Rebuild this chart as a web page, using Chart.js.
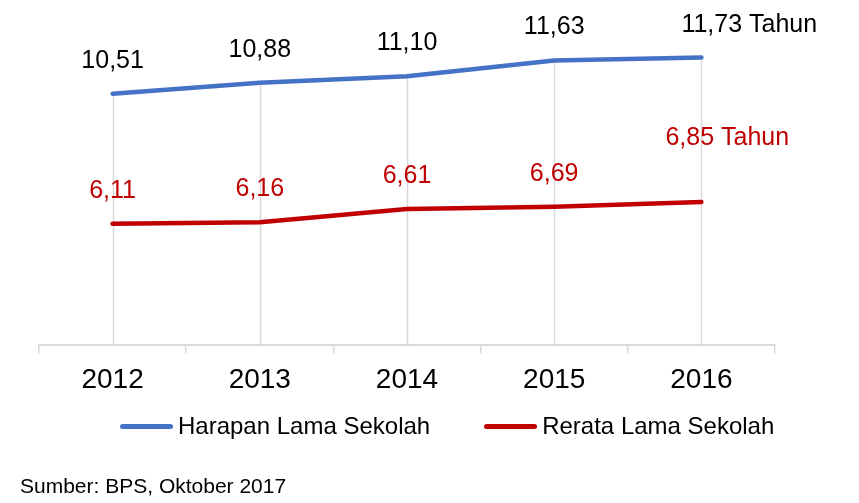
<!DOCTYPE html>
<html>
<head>
<meta charset="utf-8">
<script src="https://cdn.jsdelivr.net/npm/chart.js@4"></script>
<style>
    html, body { margin: 0; padding: 0; background: #ffffff; }
    #wrap { position: relative; width: 859px; height: 503px; font-family: 'Liberation Sans', Arial, sans-serif; }
    #chart { position: absolute; left: 0; top: 0; }
    #legend { position: absolute; left: 120px; top: 414px; display: flex; align-items: center; height: 24px; }
    #legend .item { display: flex; align-items: center; margin-right: 54px; }
    #legend .line { width: 53px; height: 5px; border-radius: 3px; margin-right: 5px; }
    #legend .text { font-size: 24px; line-height: 1; color: #000000; }
    #source { position: absolute; left: 20px; top: 475px; font-size: 21px; line-height: 1; color: #000000; }
</style>
</head>
<body>
<div id="wrap">
    <canvas id="chart" width="859" height="503"></canvas>
    <div id="legend"></div>
    <div id="source">Sumber: BPS, Oktober 2017</div>
</div>
<script>
const years = ['2012', '2013', '2014', '2015', '2016'];
const harapanLamaSekolah = [10.51, 10.88, 11.10, 11.63, 11.73];
const rerataLamaSekolah = [6.11, 6.16, 6.61, 6.69, 6.85];
const seriesNames = ['Harapan Lama Sekolah', 'Rerata Lama Sekolah'];

const BLUE = '#4472c4';
const RED = '#c00000';
const GRID = '#d9d9d9';
const FONT = "'Liberation Sans', Arial, sans-serif";

// Excel style drop lines from the highest point down to the axis
const dropLines = {
    id: 'dropLines',
    beforeDatasetsDraw(chart) {
        const ctx = chart.ctx;
        const bottom = chart.chartArea.bottom;
        const metas = chart.data.datasets.map((d, i) => chart.getDatasetMeta(i));
        ctx.save();
        ctx.strokeStyle = GRID;
        ctx.lineWidth = 1.5;
        for (let i = 0; i < years.length; i++) {
            let top = bottom;
            metas.forEach((m) => { top = Math.min(top, m.data[i].y); });
            const x = Math.round(metas[0].data[i].x) + 0.5;
            ctx.beginPath();
            ctx.moveTo(x, top);
            ctx.lineTo(x, bottom);
            ctx.stroke();
        }
        ctx.restore();
    },
};

// value labels above each point, unit on the last one
const valueLabels = {
    id: 'valueLabels',
    afterDatasetsDraw(chart, args, opts) {
        const ctx = chart.ctx;
        ctx.save();
        ctx.font = '25px ' + FONT;
        ctx.textBaseline = 'middle';
        chart.data.datasets.forEach((ds, di) => {
            const meta = chart.getDatasetMeta(di);
            ctx.fillStyle = opts.colors[di];
            meta.data.forEach((pt, i) => {
                let txt = ds.data[i].toFixed(2).replace('.', ',');
                if (i === ds.data.length - 1) {
                    const off = opts.last[di];
                    ctx.textAlign = 'left';
                    ctx.fillText(txt + ' Tahun', pt.x + off.dx, pt.y + off.dy);
                } else {
                    ctx.textAlign = 'center';
                    ctx.fillText(txt, pt.x, pt.y + opts.dy);
                }
            });
        });
        ctx.restore();
    },
};

const chart = new Chart(document.getElementById('chart'), {
    type: 'line',
    data: {
        labels: years,
        datasets: [
            {
                label: seriesNames[0],
                data: harapanLamaSekolah,
                borderColor: BLUE,
                backgroundColor: BLUE,
            },
            {
                label: seriesNames[1],
                data: rerataLamaSekolah,
                borderColor: RED,
                backgroundColor: RED,
            },
        ],
    },
    options: {
        responsive: false,
        animation: false,
        devicePixelRatio: 1,
        datasets: {
            line: {
                borderWidth: 4.5,
                borderCapStyle: 'round',
                borderJoinStyle: 'round',
                pointRadius: 0,
                tension: 0,
            },
        },
        layout: {
            padding: { left: 39, right: 84, top: 20, bottom: 96 },
        },
        scales: {
            x: {
                offset: true,
                border: { display: true, color: GRID, width: 2 },
                grid: {
                    offset: true,
                    drawOnChartArea: false,
                    drawTicks: true,
                    tickLength: 8,
                    color: GRID,
                    lineWidth: 1.5,
                },
                ticks: {
                    color: '#000000',
                    padding: 10,
                    font: { family: FONT, size: 28 },
                    maxRotation: 0,
                },
            },
            y: {
                display: false,
                min: 2,
                max: 13,
            },
        },
        plugins: {
            legend: { display: false },
            tooltip: { enabled: false },
            valueLabels: {
                colors: ['#000000', RED],
                dy: -33,
                last: [
                    { dx: -20, dy: -32 },
                    { dx: -36, dy: -64 },
                ],
            },
        },
    },
    plugins: [dropLines, valueLabels],
});

// html legend built from the datasets
const legend = document.getElementById('legend');
chart.data.datasets.forEach((ds) => {
    const item = document.createElement('div');
    item.className = 'item';
    const line = document.createElement('span');
    line.className = 'line';
    line.style.background = ds.borderColor;
    const text = document.createElement('span');
    text.className = 'text';
    text.textContent = ds.label;
    item.appendChild(line);
    item.appendChild(text);
    legend.appendChild(item);
});
</script>
</body>
</html>
